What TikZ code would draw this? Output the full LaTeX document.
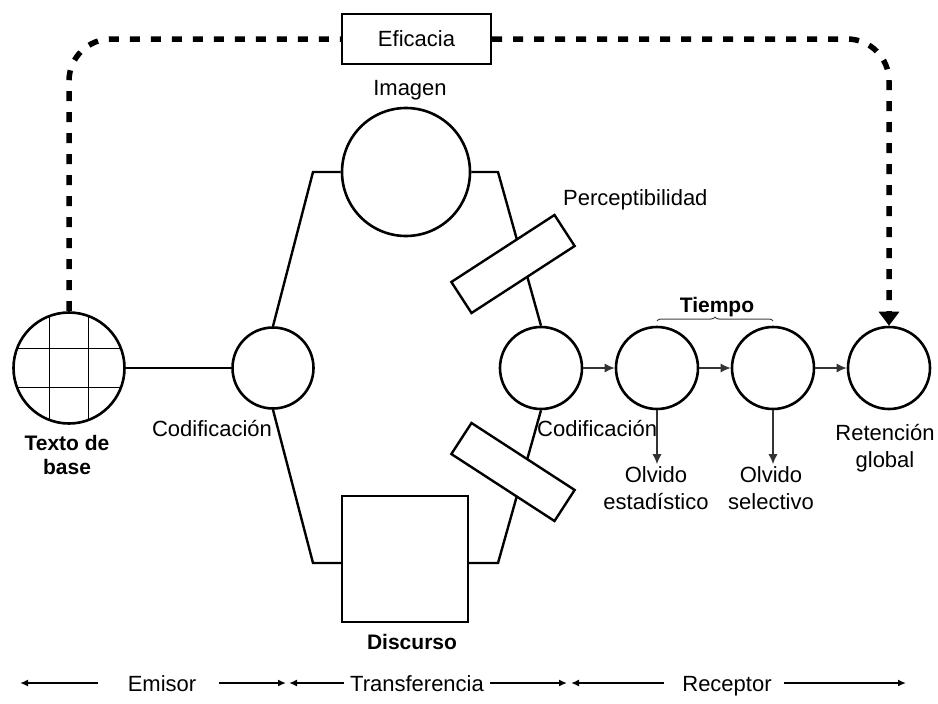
\documentclass[tikz,border=0pt]{standalone}
\usepackage{fontspec}
\setmainfont{Liberation Sans}
\usetikzlibrary{positioning,arrows.meta,decorations.pathreplacing}

\begin{document}
\begin{tikzpicture}[x=1pt, y=-1pt, node distance=116pt, font=\fontsize{22}{27}\selectfont,
  circ/.style={circle, draw, line width=2.6pt, inner sep=0pt, minimum size=82pt},
  tbox/.style={rectangle, draw, line width=2.4pt, fill=white, minimum width=123pt, minimum height=37pt},
  link/.style={line width=2.4pt},
  flow/.style={line width=1.4pt, black!80, -{Latex[length=10pt,width=9pt]}},
  effect/.style={line width=5.5pt, dash pattern=on 10pt off 11pt, rounded corners=42pt},
  span/.style={line width=2pt, -{Latex[length=8pt,width=7pt]}},
  lbl/.style={align=center, inner sep=0pt},
  bold/.style={align=center, inner sep=0pt, font=\fontsize{21}{24}\selectfont\bfseries}]
  {
  \useasboundingbox (0,0) rectangle (938,704);
  \node[circ, minimum size=111pt, path picture={
    \foreach \d in {-19.5,19.5} {
      \draw[line width=1.2pt] ([xshift=\d pt]path picture bounding box.north) -- ([xshift=\d pt]path picture bounding box.south);
      \draw[line width=1.2pt] ([yshift=\d pt]path picture bounding box.west) -- ([yshift=\d pt]path picture bounding box.east);
    }}] (texto) at (69,368) {};
  \node[bold] (textolbl) at (67,455) {Texto de\\base};
  \node[circ, minimum size=81pt] (codl) at (273,368) {};
  \node[lbl] (codllbl) at (212,429) {Codificación};
  \node[circ, minimum size=128pt] (imagen) at (406,172) {};
  \node[lbl] (imagenlbl) at (410,90) {Imagen};
  \node[draw, line width=2.4pt, minimum size=126pt] (discurso) at (405,559) {};
  \node[bold] (discursolbl) at (412,642) {Discurso};
  \node[circ] (codr) at (541,368) {};
  \node[lbl, anchor=west] (codrlbl) at (537,429) {Codificación};
  \node[circ, right of=codr] (fase1) {};
  \node[circ, right of=fase1] (fase2) {};
  \node[circ, right of=fase2] (ret) {};
  \node[draw, line width=2.2pt, minimum width=149pt, minimum height=50pt, fill=white] (eficacia) at (416.5,39) {Eficacia};

  \coordinate (tl) at (313,172);
  \coordinate (tr) at (498,172);
  \coordinate (bl) at (313,563);
  \coordinate (br) at (498,563);
  \draw[link] (texto) -- (codl);
  \draw[link] (codl.north) -- (tl) -- (imagen.west);
  \draw[link] (imagen.east) -- (tr) -- (codr.north);
  \draw[link] (codl.south) -- (bl) -- (bl -| discurso.west);
  \draw[link] (br -| discurso.east) -- (br) -- (codr.south);

  \node[tbox, rotate=33] (percep) at (513,264) {};
  \node[tbox, rotate=-33] (percepb) at (513,472) {};
  \node[lbl, anchor=west] (perceplbl) at (563,200) {Perceptibilidad};

  \draw[effect] (texto.north) |- (eficacia.west);
  \draw[effect, -{Triangle[length=14pt,width=20pt]}] (eficacia.east) -| (ret.north);

  \draw[flow] (codr) -- (fase1);
  \draw[flow] (fase1) -- (fase2);
  \draw[flow] (fase2) -- (ret);

  \node[bold] (tiempo) at (717,307) {Tiempo};
  \coordinate (br1) at (657,321);
  \coordinate (br2) at (773,321);
  \draw[line width=1pt, black!75, decorate, decoration={brace, amplitude=4pt}] (br1) -- (br2);

  \node[lbl, inner sep=2pt] (olvest) at (656,488) {Olvido\\estadístico};
  \node[lbl, inner sep=2pt] (olvsel) at (771,488) {Olvido\\selectivo};
  \node[lbl] (retlbl) at (885,448) {Retención\\global};
  \draw[flow] (fase1.south) -- (fase1.south |- olvest.north);
  \draw[flow] (fase2.south) -- (fase2.south |- olvsel.north);

  \node[lbl, anchor=base] (emisor) at (162,691) {Emisor};
  \node[lbl, anchor=base] (transf) at (417,691) {Transferencia};
  \node[lbl, anchor=base] (recep) at (727,691) {Receptor};
  \coordinate (lim0) at (20,683);
  \coordinate (lim1) at (286,683);
  \coordinate (lim2) at (289,683);
  \coordinate (lim3) at (567,683);
  \coordinate (lim4) at (571,683);
  \coordinate (lim5) at (906,683);
  \draw[span] (emisor.west |- lim0) ++(-30,0) -- (lim0);
  \draw[span] (emisor.east |- lim1) ++(23,0) -- (lim1);
  \draw[span] (transf.west |- lim2) ++(-6,0) -- (lim2);
  \draw[span] (transf.east |- lim3) ++(6,0) -- (lim3);
  \draw[span] (recep.west |- lim4) ++(-18,0) -- (lim4);
  \draw[span] (recep.east |- lim5) ++(12,0) -- (lim5);
}
\end{tikzpicture}
\end{document}
